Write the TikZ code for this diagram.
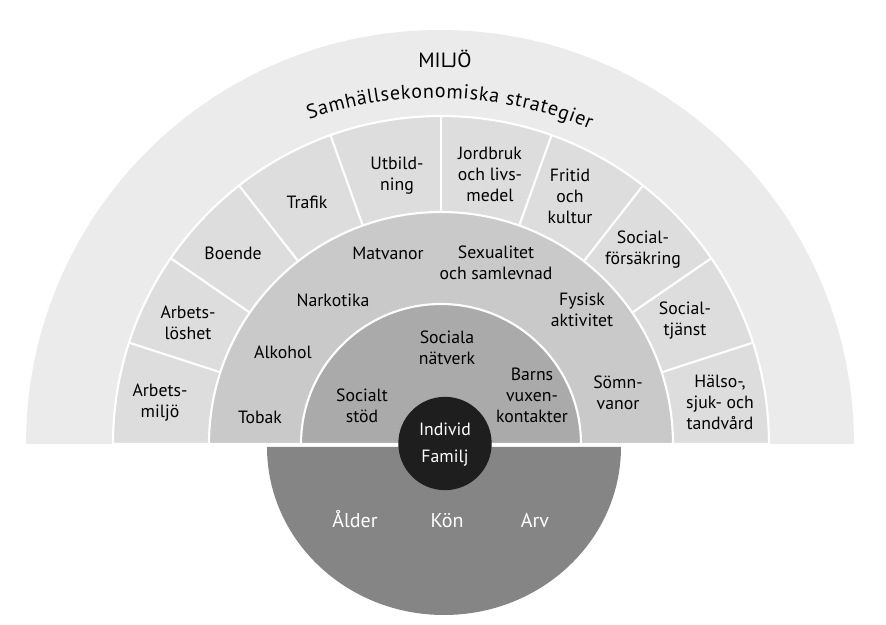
\documentclass[tikz,border=0pt]{standalone}
\usepackage{fontspec}
\setmainfont{PT Sans}
\usetikzlibrary{decorations.text}
\definecolor{cOuter}{HTML}{EBEBEB}
\definecolor{cSector}{HTML}{DDDDDD}
\definecolor{cMiddle}{HTML}{C9C9C9}
\definecolor{cInner}{HTML}{AAAAAA}
\definecolor{cDark}{HTML}{858585}
\definecolor{cIndivid}{HTML}{1E1E1E}
\newcommand{\lblfont}{\fontsize{13.3}{15.75}\selectfont}
\newcommand{\arcfont}{\fontsize{15}{17}\selectfont}
\begin{document}
\begin{tikzpicture}[x=0.75pt,y=0.75pt,
  lbl/.style={align=center, font=\lblfont, inner sep=0pt, text=black},
  wlbl/.style={font=\fontsize{15}{17}\selectfont, inner sep=0pt, text=white, anchor=base},
  sepline/.style={draw=white, line width=1.6pt}]
\useasboundingbox (-441,-181) rectangle (445,444);
% rings
\fill[cOuter] (-415,0) arc[start angle=180,end angle=0,radius=414] -- cycle;
\filldraw[fill=cSector, sepline] (-328,0) arc[start angle=180,end angle=0,radius=328] -- cycle;
\foreach \a in {18,34.5,52,70.3,90,109.7,128,145.5,162}
  \draw[sepline] (\a:232) -- (\a:328);
\filldraw[fill=cMiddle, sepline] (-232,0) arc[start angle=180,end angle=0,radius=232] -- cycle;
\filldraw[fill=cInner, sepline] (-140,0) arc[start angle=180,end angle=0,radius=140] -- cycle;
% bottom half
\fill[cDark] (-174,-3) arc[start angle=180,end angle=360,x radius=177,y radius=168] -- cycle;
\node[circle, fill=cIndivid, minimum size=70pt, inner sep=0pt] (ind) at (4,0.5) {};
\node[wlbl, font=\lblfont] (individ) at (4,8) {Individ};
\node[wlbl, font=\lblfont] (familj) at (4,-19) {Familj};
\node[wlbl] (alder) at (-86,-84) {Ålder};
\node[wlbl] (kon) at (6,-84) {Kön};
\node[wlbl] (arv) at (94,-84) {Arv};
% top texts
\node[lbl, font=\fontsize{15.5}{17}\selectfont] (miljo) at (4,385.5) {MILJÖ};
\path[decorate, decoration={text along path,
   text={|\arcfont|Samhällsekonomiska strategier}, text align={fit to path}}]
  ([shift={(108.9:392)}]-5,-46) arc[start angle=108.9, end angle=66.9, radius=392];
% sector labels
\node[lbl] (arbmiljo) at (-281,41.5) {Arbets-\\miljö};
\node[lbl] (arblos) at (-253,121.5) {Arbets-\\löshet};
\node[lbl] (boende) at (-208,191) {Boende};
\node[lbl] (trafik) at (-134,242) {Trafik};
\node[lbl] (utb) at (-44,268) {Utbild-\\ning};
\node[lbl] (jord) at (49,270) {Jordbruk\\och livs-\\medel};
\node[lbl] (fritid) at (129,247.5) {Fritid\\och\\kultur};
\node[lbl] (socfors) at (202,194) {Social-\\försäkring};
\node[lbl] (soctj) at (244,123.5) {Social-\\tjänst};
\node[lbl] (halso) at (279,42) {Hälso-,\\sjuk- och\\tandvård};
% middle ring labels
\node[lbl] (tobak) at (-181,27) {Tobak};
\node[lbl] (alkohol) at (-158,92) {Alkohol};
\node[lbl] (nark) at (-108,144) {Narkotika};
\node[lbl] (matv) at (-53,191) {Matvanor};
\node[lbl] (sex) at (55,181) {Sexualitet\\och samlevnad};
\node[lbl] (fysisk) at (141,134) {Fysisk\\aktivitet};
\node[lbl] (somn) at (177,51.5) {Sömn-\\vanor};
% inner ring labels
\node[lbl] (socst) at (-79,38.5) {Socialt\\stöd};
\node[lbl] (socnat) at (6,96.5) {Sociala\\nätverk};
\node[lbl] (barns) at (91,49) {Barns\\vuxen-\\kontakter};
\end{tikzpicture}
\end{document}
